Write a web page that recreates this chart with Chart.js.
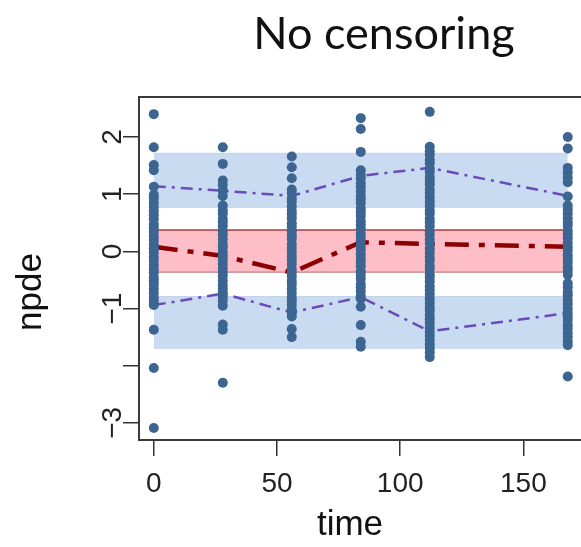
<!DOCTYPE html>
<html>
<head>
<meta charset="utf-8">
<script src="https://cdn.jsdelivr.net/npm/chart.js@4.4.1/dist/chart.umd.min.js"></script>
<style>
  html, body { margin: 0; padding: 0; background: #fff; overflow: hidden; }
  #wrap { position: relative; width: 581px; height: 547px; overflow: hidden; }
  #npde { position: absolute; left: 0; top: 0; }
  #titre { position: absolute; top: 5px; left: 384px; transform: translateX(-50%); white-space: nowrap;
           font-family: 'Lato', 'Open Sans', sans-serif; font-size: 45px; color: #111; }
</style>
</head>
<body>
<div id="wrap">
  <canvas id="npde" width="600" height="547"></canvas>
  <div id="titre">No censoring</div>
</div>
<script>
// sampling times
const times = [0, 28, 56, 84, 112, 168]

// prediction bands (lower, upper) for the 5th, 50th and 95th percentiles
const bandHigh = [0.77, 1.715]
const bandMid = [-0.355, 0.374]
const bandLow = [-1.694, -0.79]

// empirical percentiles of the observed npde
const p95 = [1.14, 1.06, 0.97, 1.32, 1.46, 0.97]
const p50 = [0.08, -0.08, -0.37, 0.16, 0.13, 0.08]
const p05 = [-0.94, -0.74, -1.07, -0.80, -1.40, -1.08]

// observed npde, one list per time
const obs0 = [2.40, 1.82, 1.51, 1.42, 1.13, 0.99, 0.93, 0.85, 0.78, 0.70, 0.63, 0.56, 0.47, 0.41, 0.34, 0.26, 0.20, 0.12, 0.05, -0.02, -0.10, -0.16, -0.24, -0.31, -0.37, -0.46, -0.52, -0.58, -0.66, -0.73, -0.81, -0.87, -0.94, -1.37, -2.04, -3.09]
const obs28 = [1.82, 1.53, 1.24, 1.16, 1.07, 0.97, 0.80, 0.72, 0.66, 0.57, 0.51, 0.44, 0.35, 0.29, 0.21, 0.13, 0.07, -0.01, -0.09, -0.15, -0.22, -0.30, -0.37, -0.43, -0.51, -0.59, -0.65, -0.72, -0.80, -0.86, -0.95, -1.28, -1.37, -2.30]
const obs56 = [1.66, 1.47, 1.28, 1.08, 1.02, 0.93, 0.87, 0.79, 0.71, 0.65, 0.58, 0.49, 0.43, 0.35, 0.28, 0.22, 0.13, 0.06, -0.01, -0.09, -0.15, -0.22, -0.31, -0.37, -0.44, -0.52, -0.58, -0.66, -0.73, -0.81, -0.87, -0.94, -1.02, -1.08, -1.14, -1.36, -1.50]
const obs84 = [2.33, 2.14, 1.74, 1.42, 1.34, 1.28, 1.19, 1.13, 1.05, 0.97, 0.91, 0.84, 0.75, 0.69, 0.62, 0.53, 0.47, 0.40, 0.31, 0.25, 0.18, 0.09, 0.03, -0.05, -0.13, -0.19, -0.26, -0.35, -0.41, -0.48, -0.57, -0.63, -0.70, -0.78, -0.83, -0.97, -1.29, -1.58, -1.67]
const obs112 = [2.44, 1.83, 1.75, 1.69, 1.60, 1.54, 1.45, 1.39, 1.30, 1.24, 1.17, 1.08, 1.02, 0.95, 0.87, 0.80, 0.72, 0.66, 0.57, 0.51, 0.44, 0.35, 0.29, 0.21, 0.14, 0.05, -0.02, -0.10, -0.16, -0.25, -0.31, -0.40, -0.46, -0.53, -0.61, -0.68, -0.75, -0.83, -0.90, -0.98, -1.04, -1.12, -1.19, -1.26, -1.34, -1.41, -1.48, -1.55, -1.63, -1.70, -1.77, -1.85]
const obs168 = [2.00, 1.80, 1.46, 1.38, 1.29, 1.21, 0.96, 0.80, 0.73, 0.66, 0.58, 0.51, 0.45, 0.36, 0.30, 0.23, 0.15, 0.08, 0.01, -0.07, -0.13, -0.20, -0.28, -0.34, -0.41, -0.56, -0.63, -0.71, -0.77, -0.85, -0.92, -1.00, -1.07, -1.14, -1.20, -1.29, -1.35, -1.43, -1.50, -1.58, -1.64, -2.19]
const observed = [obs0, obs28, obs56, obs84, obs112, obs168]

// axis ticks
const xTicks = [0, 50, 100, 150]
const yTicks = [-3, -2, -1, 0, 1, 2]
const yTickLabels = [2, 1, 0, -1, -3]

let points = []
for (let i = 0; i < times.length; i++) {
  for (let j = 0; j < observed[i].length; j++) {
    points.push({x: times[i], y: observed[i][j]})
  }
}

let tFirst = times[0]
let tLast = times[times.length - 1]
let edge = function (v) {
  return [{x: tFirst, y: v}, {x: tLast, y: v}]
}
let serie = function (vals) {
  return times.map((t, i) => ({x: t, y: vals[i]}))
}

let bandSet = function (v, fillColor, lineColor, lineWidth) {
  return {
    data: edge(v), showLine: true, pointRadius: 0, order: 2,
    borderColor: lineColor, borderWidth: lineWidth,
    backgroundColor: fillColor, fill: fillColor ? '+1' : false
  }
}
let lineSet = function (vals, color, width, dash) {
  return {
    data: serie(vals), showLine: true, pointRadius: 0, order: 1,
    borderColor: color, borderWidth: width, borderDash: dash, fill: false
  }
}

const blueFill = 'rgb(201, 219, 241)'
const blueEdge = 'rgb(192, 212, 238)'
const pinkFill = 'rgb(253, 190, 200)'
const pinkEdge = 'rgb(170, 60, 60)'

// rotated y tick labels, axis titles and the box around the plot
const axisText = {
  id: 'axisText',
  afterDatasetsDraw(chart) {
    const ctx = chart.ctx
    const a = chart.chartArea
    const y = chart.scales.y
    ctx.save()
    ctx.strokeStyle = '#3a3a3a'
    ctx.lineWidth = 2
    ctx.strokeRect(a.left, a.top, a.right - a.left, a.bottom - a.top)

    ctx.fillStyle = '#222'
    ctx.textAlign = 'center'
    ctx.textBaseline = 'middle'
    ctx.font = '28px "Liberation Sans", Arial, sans-serif'
    yTickLabels.forEach(v => {
      ctx.save()
      ctx.translate(113, y.getPixelForValue(v))
      ctx.rotate(-Math.PI / 2)
      ctx.fillText(v < 0 ? '\u2212' + Math.abs(v) : String(v), 0, 0)
      ctx.restore()
    })

    ctx.font = '35px "Liberation Sans", Arial, sans-serif'
    ctx.fillStyle = '#111'
    ctx.save()
    ctx.translate(31, 292)
    ctx.rotate(-Math.PI / 2)
    ctx.fillText('npde', 0, 0)
    ctx.restore()
    ctx.fillText('time', 350, 525)
    ctx.restore()
  }
}

let gridOpts = {drawOnChartArea: false, drawTicks: true, tickLength: 16, color: '#333', lineWidth: 1.5}

new Chart(document.getElementById('npde'), {
  type: 'scatter',
  data: {
    datasets: [
      {
        data: points, order: 0, pointRadius: 5, pointHoverRadius: 5,
        backgroundColor: '#3c6592', borderColor: '#3c6592', borderWidth: 0
      },
      lineSet(p95, '#6a4cb8', 2.5, [12, 6, 3, 6]),
      lineSet(p50, '#8b0000', 4.5, [24, 10, 6, 10]),
      lineSet(p05, '#6a4cb8', 2.5, [12, 6, 3, 6]),
      bandSet(bandHigh[1], blueFill, blueEdge, 1),
      bandSet(bandHigh[0], null, blueEdge, 1),
      bandSet(bandMid[1], pinkFill, pinkEdge, 1.5),
      bandSet(bandMid[0], null, pinkEdge, 1.5),
      bandSet(bandLow[1], blueFill, blueEdge, 1),
      bandSet(bandLow[0], null, blueEdge, 1)
    ]
  },
  options: {
    responsive: false,
    animation: false,
    devicePixelRatio: 1,
    layout: {padding: {top: 97, right: 15, left: 0, bottom: 0}},
    plugins: {legend: {display: false}, tooltip: {enabled: false}},
    scales: {
      x: {
        type: 'linear', min: -6, max: 175,
        afterBuildTicks: s => { s.ticks = xTicks.map(v => ({value: v})) },
        afterFit: s => { s.height = 107 },
        grid: gridOpts,
        border: {display: false},
        ticks: {
          font: {family: 'Liberation Sans', size: 28}, color: '#222',
          padding: 11, maxRotation: 0, autoSkip: false
        }
      },
      y: {
        type: 'linear', min: -3.3, max: 2.7,
        afterBuildTicks: s => { s.ticks = yTicks.map(v => ({value: v})) },
        afterFit: s => { s.width = 139 },
        grid: gridOpts,
        border: {display: false},
        ticks: {display: false}
      }
    }
  },
  plugins: [axisText]
})
</script>
</body>
</html>
